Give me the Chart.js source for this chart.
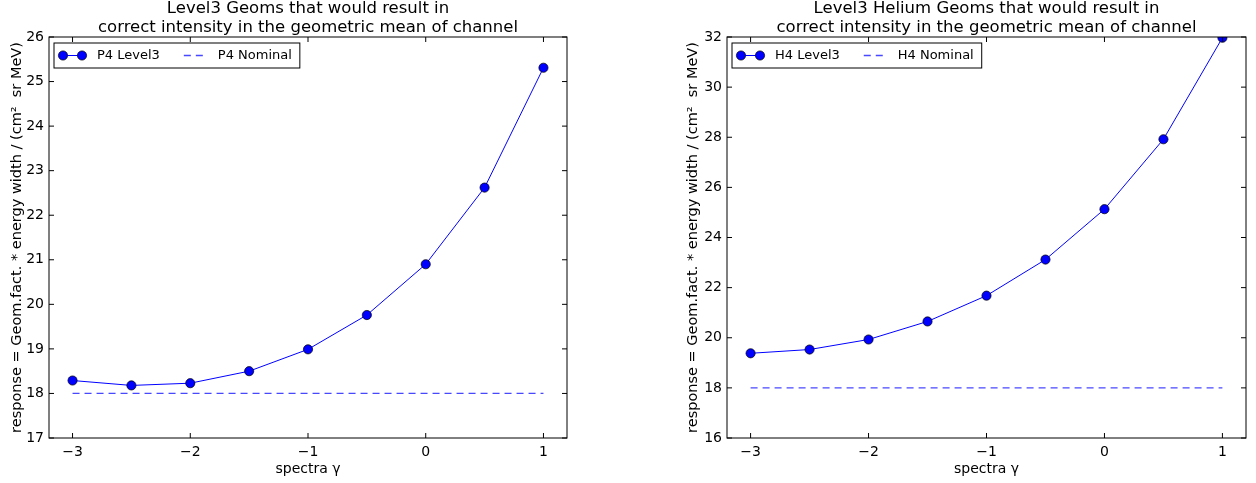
<!DOCTYPE html>
<html>
<head>
<meta charset="utf-8">
<title>Level3 Geoms</title>
<script src="https://cdn.jsdelivr.net/npm/chart.js@4.4.1/dist/chart.umd.min.js"></script>
<style>
    body { margin: 0; background: #fff; }
    .panel { position: absolute; top: 0; width: 628px; height: 483px; }
</style>
</head>
<body>
<div class="panel" style="left:0"><canvas id="chartP4" width="628" height="483"></canvas></div>
<div class="panel" style="left:628px"><canvas id="chartH4" width="628" height="483"></canvas></div>
<script>
// spectral index values
var gammas = [-3, -2.5, -2, -1.5, -1, -0.5, 0, 0.5, 1];

// proton channel P4
var p4Level3 = [18.29, 18.18, 18.23, 18.50, 18.99, 19.76, 20.90, 22.62, 25.31];
var p4Nominal = [18, 18, 18, 18, 18, 18, 18, 18, 18];

// helium channel H4
var h4Level3 = [19.38, 19.53, 19.93, 20.65, 21.68, 23.12, 25.13, 27.92, 31.97];
var h4Nominal = [18, 18, 18, 18, 18, 18, 18, 18, 18];

// tick labels
var gammaTicks = [-3, -2, -1, 0, 1];
var p4Ticks = [17, 18, 19, 20, 21, 22, 23, 24, 25, 26];
var h4Ticks = [16, 18, 20, 22, 24, 26, 28, 30, 32];

Chart.defaults.font.family = "'DejaVu Sans', sans-serif";
Chart.defaults.color = '#000';

// box around the plot with inward ticks on all four sides
var framePlugin = {
    id: 'frame',
    afterDraw: function (chart) {
        var ctx = chart.ctx;
        var a = chart.chartArea;
        var xs = chart.scales.x, ys = chart.scales.y;
        var len = 5;
        ctx.save();
        ctx.strokeStyle = '#000';
        ctx.lineWidth = 1;
        ctx.beginPath();
        xs.ticks.forEach(function (t) {
            var px = xs.getPixelForValue(t.value);
            ctx.moveTo(px, a.bottom); ctx.lineTo(px, a.bottom - len);
            ctx.moveTo(px, a.top); ctx.lineTo(px, a.top + len);
        });
        ys.ticks.forEach(function (t) {
            var py = ys.getPixelForValue(t.value);
            ctx.moveTo(a.left, py); ctx.lineTo(a.left + len, py);
            ctx.moveTo(a.right, py); ctx.lineTo(a.right - len, py);
        });
        ctx.stroke();
        ctx.strokeRect(a.left, a.top, a.right - a.left, a.bottom - a.top);
        ctx.restore();
    }
};

// legend in a box at the upper left, entries side by side
var boxLegendPlugin = {
    id: 'boxLegend',
    afterDraw: function (chart) {
        var ctx = chart.ctx;
        var a = chart.chartArea;
        var sets = chart.data.datasets;
        ctx.save();
        ctx.font = "13px 'DejaVu Sans'";
        var left = a.left + 5, top = a.top + 6, h = 25, cy = top + h / 2;
        var w = 9;
        sets.forEach(function (ds, i) {
            w += 34 + ctx.measureText(ds.label).width + (i < sets.length - 1 ? 24 : 8);
        });
        ctx.fillStyle = '#fff';
        ctx.fillRect(left, top, w, h);
        ctx.strokeStyle = '#000';
        ctx.lineWidth = 1;
        ctx.strokeRect(left, top, w, h);

        var x = left + 9;
        sets.forEach(function (ds) {
            ctx.strokeStyle = ds.borderColor;
            ctx.lineWidth = ds.borderWidth;
            ctx.setLineDash(ds.borderDash || []);
            ctx.beginPath();
            ctx.moveTo(x, cy);
            ctx.lineTo(x + 19, cy);
            ctx.stroke();
            ctx.setLineDash([]);
            if (ds.pointRadius > 0) {
                [x, x + 19].forEach(function (mx) {
                    ctx.beginPath();
                    ctx.arc(mx, cy, ds.pointRadius, 0, Math.PI * 2);
                    ctx.fillStyle = ds.pointBackgroundColor;
                    ctx.fill();
                    ctx.lineWidth = ds.pointBorderWidth;
                    ctx.strokeStyle = ds.pointBorderColor;
                    ctx.stroke();
                });
            }
            ctx.fillStyle = '#000';
            ctx.textBaseline = 'middle';
            ctx.textAlign = 'left';
            ctx.fillText(ds.label, x + 34, cy);
            x += 34 + ctx.measureText(ds.label).width + 24;
        });
        ctx.restore();
    }
};

function minusSign(v) {
    return String(v).replace('-', '\u2212');
}

function makeChart(canvasId, names, level3, nominal, yTicks, titleLines, yAxisWidth, yTitlePad, rightPad) {
    var ctx = document.getElementById(canvasId).getContext('2d');
    return new Chart(ctx, {
        type: 'line',
        data: {
            labels: gammas,
            datasets: [{
                label: names[0],
                data: gammas.map(function (g, i) { return { x: g, y: level3[i] }; }),
                borderColor: '#0000ff',
                borderWidth: 1,
                pointRadius: 4.6,
                pointBackgroundColor: '#0000ff',
                pointBorderColor: '#000',
                pointBorderWidth: 0.7,
                tension: 0,
                clip: 0
            }, {
                label: names[1],
                data: gammas.map(function (g, i) { return { x: g, y: nominal[i] }; }),
                borderColor: 'rgba(40, 40, 255, 0.85)',
                borderWidth: 1.3,
                borderDash: [7, 5],
                pointRadius: 0,
                tension: 0,
                clip: 0
            }]
        },
        options: {
            responsive: false,
            animation: false,
            layout: { padding: { left: 0, right: rightPad, top: 0, bottom: 0 } },
            plugins: {
                legend: { display: false },
                tooltip: { enabled: false },
                title: {
                    display: true,
                    text: titleLines,
                    fullSize: false,
                    color: '#000',
                    font: { size: 16.5, weight: 'normal', lineHeight: 1.1 },
                    padding: { top: 0, bottom: 0.7 }
                }
            },
            scales: {
                x: {
                    type: 'linear',
                    min: -3.2,
                    max: 1.2,
                    grid: { display: false, drawTicks: false },
                    border: { display: false },
                    afterBuildTicks: function (s) {
                        s.ticks = gammaTicks.map(function (v) { return { value: v }; });
                    },
                    afterFit: function (s) { s.height = 45; },
                    ticks: {
                        padding: 6,
                        color: '#000',
                        font: { size: 14 },
                        maxRotation: 0,
                        callback: function (v) { return minusSign(v); }
                    },
                    title: {
                        display: true,
                        text: 'spectra \u03b3',
                        color: '#000',
                        font: { size: 14 },
                        padding: { top: 0, bottom: 5 }
                    }
                },
                y: {
                    min: yTicks[0],
                    max: yTicks[yTicks.length - 1],
                    grid: { display: false, drawTicks: false },
                    border: { display: false },
                    afterBuildTicks: function (s) {
                        s.ticks = yTicks.map(function (v) { return { value: v }; });
                    },
                    afterFit: function (s) { s.width = yAxisWidth; },
                    ticks: { padding: 5, color: '#000', font: { size: 14 } },
                    title: {
                        display: true,
                        text: 'response = Geom.fact. * energy width / (cm\u00b2  sr MeV)',
                        color: '#000',
                        font: { size: 14.5 },
                        padding: { top: yTitlePad, bottom: 0 }
                    }
                }
            }
        },
        plugins: [framePlugin, boxLegendPlugin]
    });
}

makeChart('chartP4', ['P4 Level3', 'P4 Nominal'], p4Level3, p4Nominal, p4Ticks,
    ['Level3 Geoms that would result in', 'correct intensity in the geometric mean of channel'],
    49, 8.5, 61);

makeChart('chartH4', ['H4 Level3', 'H4 Nominal'], h4Level3, h4Nominal, h4Ticks,
    ['Level3 Helium Geoms that would result in', 'correct intensity in the geometric mean of channel'],
    99, 56.5, 10);
</script>
</body>
</html>
